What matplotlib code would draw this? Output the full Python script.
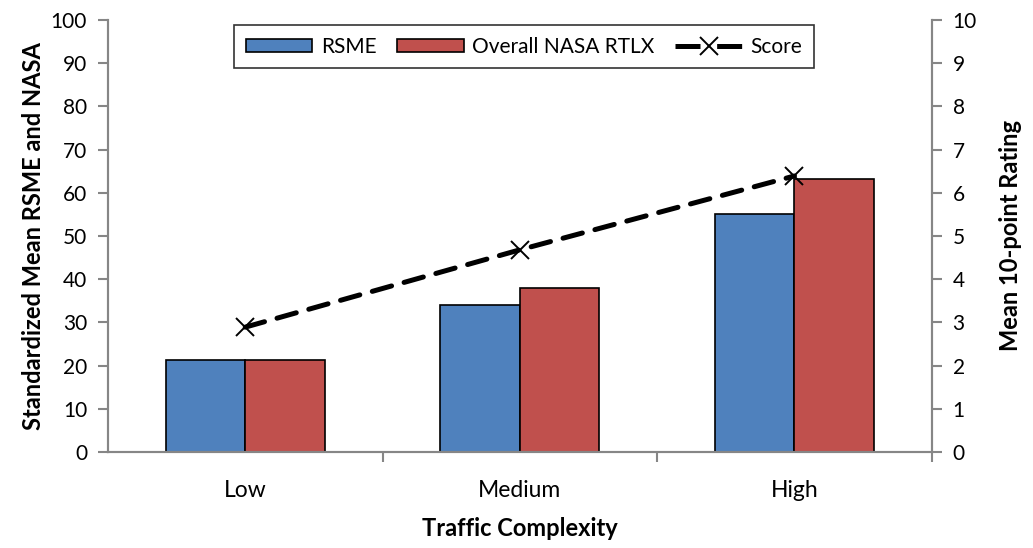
import matplotlib
matplotlib.use("Agg")
import matplotlib.pyplot as plt
from matplotlib.lines import Line2D
import numpy as np

categories = ["Low", "Medium", "High"]
rsme = [21.3, 34.0, 55.1]
nasa_rtlx = [21.3, 37.9, 63.2]
score = [2.89, 4.68, 6.39]

plt.rcParams["font.family"] = ["Lato", "DejaVu Sans"]

fig = plt.figure(figsize=(10.33, 5.48), dpi=100)
ax = fig.add_axes([0.1045, 0.1752, 0.7975, 0.7883])
ax2 = ax.twinx()

x = np.arange(len(categories))
w = 0.29
spine_col = "#868686"

ax.bar(x - w / 2, rsme, w, color="#4F81BD", edgecolor="black", linewidth=1.2,
       label="RSME", zorder=2)
ax.bar(x + w / 2, nasa_rtlx, w, color="#C0504D", edgecolor="black", linewidth=1.2,
       label="Overall NASA RTLX", zorder=2)
ax2.plot(x, score, color="black", linestyle=(0, (4.0, 2.6)), linewidth=3.6,
         marker="x", markersize=13, markeredgewidth=1.4, label="Score",
         dash_capstyle="round")

ax.set_xlim(-0.5, 2.5)
ax.set_ylim(0, 100)
ax2.set_ylim(0, 10)
ax.set_yticks(np.arange(0, 101, 10))
ax2.set_yticks(np.arange(0, 11, 1))
ax.set_xticks(x)
ax.set_xticklabels(categories)
ax.set_xticks([0.5, 1.5, 2.5], minor=True)

for a in (ax, ax2):
    a.spines["top"].set_visible(False)
    for s in ("left", "right", "bottom"):
        a.spines[s].set_color(spine_col)
        a.spines[s].set_linewidth(1.5)
    a.tick_params(axis="y", colors=spine_col, labelcolor="black",
                  labelsize=15, length=7, width=1.5, direction="out", pad=8)

ax.tick_params(axis="x", which="major", length=0, labelsize=16.5, pad=20)
ax.tick_params(axis="x", which="minor", length=7, width=1.5, color=spine_col,
               direction="out")

ax.set_xlabel("Traffic Complexity", fontsize=17, fontweight="bold", labelpad=12)
ax.set_ylabel("Standardized Mean RSME and NASA", fontsize=17, fontweight="bold",
              labelpad=4)
ax2.set_ylabel("Mean 10-point Rating", fontsize=17, fontweight="bold", labelpad=16)

# Legend key for the score line: one dash on each side of the marker
score_key = Line2D([], [], color="black", linestyle=(0, (5.0, 3.33)),
                   linewidth=3.6, marker="x", markersize=13,
                   markeredgewidth=1.4, dash_capstyle="butt")

h1, l1 = ax.get_legend_handles_labels()
leg = ax2.legend(h1 + [score_key], l1 + ["Score"], loc="upper center", ncol=3,
                 fontsize=15, frameon=True, fancybox=False, edgecolor="black",
                 bbox_to_anchor=(0.505, 1.012), handlelength=3.2,
                 handleheight=0.6, handletextpad=0.4, columnspacing=1.0,
                 borderpad=0.55)
leg.get_frame().set_linewidth(1.2)

fig.savefig("out.png", dpi=100, facecolor="white")
